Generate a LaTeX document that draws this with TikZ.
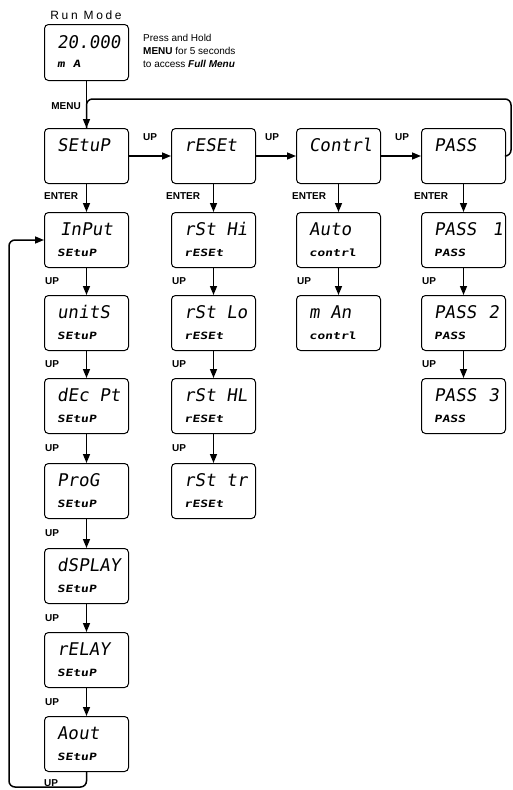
\documentclass[tikz,border=0pt]{standalone}
\usepackage{fontspec}
\setmainfont{Liberation Sans}
\newfontfamily\segfont{DejaVu Sans Mono}[FakeSlant=0.15]
\newfontfamily\segsubfont{DejaVu Sans Mono Bold}[FakeSlant=0.15,FakeStretch=1.3]
\usetikzlibrary{arrows.meta,calc}
\tikzset{
 dbox/.style={draw, line width=1pt, rounded corners=4pt, minimum width=84pt, minimum height=55pt, inner sep=0pt},
 maintxt/.style={inner sep=0pt, font=\segfont\fontsize{17.5}{18}\selectfont},
 subtxt/.style={inner sep=0pt, font=\segsubfont\fontsize{10}{10}\selectfont},
 lbl/.style={inner sep=0pt, font=\bfseries\fontsize{10}{12}\selectfont},
 conn/.style={line width=1.5pt},
 arr/.style={conn, -{Triangle[length=9pt,width=7pt]}},
}
\newcommand\topbox[4]{%
 \node[dbox,anchor=north west] (#1) at (#2,#3) {};
 \node[maintxt,anchor=base west] (#1m) at ($(#1.north west)+(13,23.5)$) {#4};}
\newcommand\dispbox[5]{\topbox{#1}{#2}{#3}{#4}%
 \node[subtxt,anchor=base west] (#1s) at ($(#1.north west)+(13,44)$) {#5};}
\begin{document}
\begin{tikzpicture}[x=1pt,y=-1pt]
\useasboundingbox (0,0) rectangle (512,790);
% title and note
\node[font=\fontsize{12}{14}\selectfont\addfontfeature{LetterSpace=22}] (title) at (86,15) {Run Mode};
\node[anchor=north west, inner sep=0pt, align=left, font=\fontsize{10}{13}\selectfont] (note) at (143,34)
 {Press and Hold\\\textbf{MENU} for 5 seconds\\to access \textbf{\textit{Full Menu}}};
% run mode box
\node[dbox, minimum height=56pt, anchor=north west] (run) at (44,24) {};
\node[maintxt, anchor=base west] (runm) at (57,48.5) {20.000};
\node[subtxt, anchor=base west] (runs) at (57,67) {m A};
% top row
\topbox{setup}{44}{128}{SEtuP}
\topbox{reset}{171}{128}{rESEt}
\topbox{contrl}{296}{128}{Contrl}
\topbox{pass}{421}{128}{PASS}
% column 1
\dispbox{input}{44}{212}{\hspace{3pt}InPut}{SEtuP}
\dispbox{units}{44}{295}{unitS}{SEtuP}
\dispbox{decpt}{44}{378}{dEc Pt}{SEtuP}
\dispbox{prog}{44}{463}{ProG}{SEtuP}
\dispbox{dsplay}{44}{548}{dSPLAY}{SEtuP}
\dispbox{relay}{44}{632}{rELAY}{SEtuP}
\dispbox{aout}{44}{716}{Aout}{SEtuP}
% column 2
\dispbox{rsthi}{171}{212}{rSt Hi}{rESEt}
\dispbox{rstlo}{171}{295}{rSt Lo}{rESEt}
\dispbox{rsthl}{171}{378}{rSt HL}{rESEt}
\dispbox{rsttr}{171}{463}{rSt tr}{rESEt}
% column 3
\dispbox{auto}{296}{212}{Auto}{contrl}
\dispbox{man}{296}{295}{m An}{contrl}
% column 4
\dispbox{pass1}{421}{212}{PASS\hspace{16pt}1}{PASS}
\dispbox{pass2}{421}{295}{PASS\hspace{12pt}2}{PASS}
\dispbox{pass3}{421}{378}{PASS\hspace{12pt}3}{PASS}
% connectors
\draw[arr] (run.south) -- (setup.north);
\coordinate (loopr) at (511,99);
\draw[conn, rounded corners=6pt] (pass.east) -| (loopr) -| (setup.north);
\foreach \a/\b in {setup/reset, reset/contrl, contrl/pass}
 \draw[arr] (\a.east) -- (\b.west);
\foreach \a/\b in {setup/input, input/units, units/decpt, decpt/prog, prog/dsplay, dsplay/relay, relay/aout, reset/rsthi, rsthi/rstlo, rstlo/rsthl, rsthl/rsttr, contrl/auto, auto/man, pass/pass1, pass1/pass2, pass2/pass3}
 \draw[arr] (\a.south) -- (\b.north);
\coordinate (loopbl) at (9,787);
\draw[arr, rounded corners=6pt] (aout.south) |- (loopbl) |- (input.west);
% labels
\node[lbl, anchor=east] (menu) at (81,106) {MENU};
\foreach \x/\n in {150/u1, 272/u2, 402/u3}
 \node[lbl] (h\n) at (\x,137) {UP};
\foreach \x/\n in {44/e1, 166/e2, 292/e3, 414/e4}
 \node[lbl, anchor=west] (\n) at (\x,196) {ENTER};
\foreach \a/\b in {input/units, units/decpt, decpt/prog, prog/dsplay, dsplay/relay, relay/aout, rsthi/rstlo, rstlo/rsthl, rsthl/rsttr, auto/man, pass1/pass2, pass2/pass3}
 \node[lbl, anchor=west] (up\b) at ($(\a.south west)!0.5!(\b.north west)+(1,0)$) {UP};
\node[lbl, anchor=west] (upbot) at ($(aout.south west)+(0,11)$) {UP};
\end{tikzpicture}
\end{document}
